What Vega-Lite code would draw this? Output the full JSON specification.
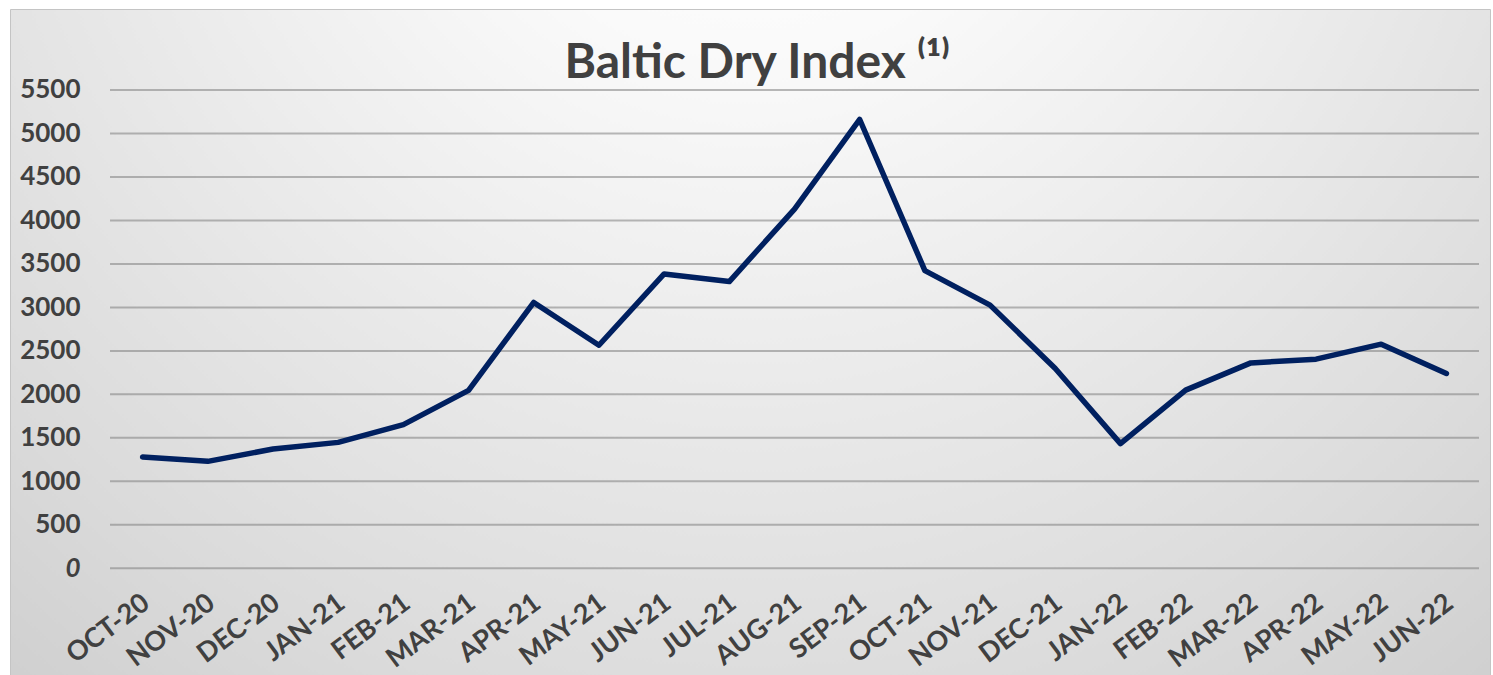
{
  "$schema": "https://vega.github.io/schema/vega-lite/v6.json",
  "width": 1480,
  "height": 666,
  "autosize": {"type": "none"},
  "padding": {"left": 10, "top": 9, "right": 3, "bottom": 0},
  "background": "#ffffff",
  "view": {
    "fill": {
      "gradient": "radial",
      "x1": 0.5, "y1": 0.1, "r1": 0,
      "x2": 0.5, "y2": 0.1, "r2": 1.67,
      "stops": [
        {"offset": 0, "color": "#ffffff"},
        {"offset": 0.12, "color": "#fafafa"},
        {"offset": 0.4, "color": "#dadada"},
        {"offset": 0.53, "color": "#c9c9c9"},
        {"offset": 0.7, "color": "#bcbcbc"},
        {"offset": 1, "color": "#b6b6b6"}
      ]
    },
    "stroke": "#c4c4c4",
    "strokeWidth": 1
  },
  "title": {
    "text": "Baltic Dry Index ⁽¹⁾",
    "orient": "top",
    "anchor": "middle",
    "frame": "group",
    "baseline": "alphabetic",
    "offset": 0,
    "dx": 7,
    "dy": 117,
    "font": "Lato",
    "fontSize": 48,
    "fontWeight": "bold",
    "color": "#404040"
  },
  "datasets": {
    "bdi": [
      {"month": "OCT-20", "index": 1280},
      {"month": "NOV-20", "index": 1230},
      {"month": "DEC-20", "index": 1372},
      {"month": "JAN-21", "index": 1448},
      {"month": "FEB-21", "index": 1652},
      {"month": "MAR-21", "index": 2046},
      {"month": "APR-21", "index": 3057},
      {"month": "MAY-21", "index": 2565},
      {"month": "JUN-21", "index": 3385},
      {"month": "JUL-21", "index": 3297},
      {"month": "AUG-21", "index": 4131},
      {"month": "SEP-21", "index": 5161},
      {"month": "OCT-21", "index": 3423},
      {"month": "NOV-21", "index": 3026},
      {"month": "DEC-21", "index": 2298},
      {"month": "JAN-22", "index": 1434},
      {"month": "FEB-22", "index": 2049},
      {"month": "MAR-22", "index": 2362},
      {"month": "APR-22", "index": 2405},
      {"month": "MAY-22", "index": 2577},
      {"month": "JUN-22", "index": 2240}
    ],
    "grid": [
      {"level": 0}, {"level": 500}, {"level": 1000}, {"level": 1500},
      {"level": 2000}, {"level": 2500}, {"level": 3000}, {"level": 3500},
      {"level": 4000}, {"level": 4500}, {"level": 5000}, {"level": 5500}
    ]
  },
  "layer": [
    {
      "data": {"name": "grid"},
      "mark": {"type": "rule", "color": "#7f7f7f", "strokeOpacity": 0.55, "strokeWidth": 2},
      "encoding": {
        "y": {
          "field": "level",
          "type": "quantitative",
          "scale": {"domain": [-1227, 6431.4], "nice": false, "zero": false},
          "axis": {
            "orient": "left",
            "offset": -70,
            "title": null,
            "values": [0, 500, 1000, 1500, 2000, 2500, 3000, 3500, 4000, 4500, 5000, 5500],
            "format": "d",
            "domain": false,
            "ticks": false,
            "tickSize": 0,
            "grid": false,
            "labelPadding": 0,
            "labelFont": "Lato",
            "labelFontSize": 26,
            "labelFontWeight": "bold",
            "labelColor": "#404040",
            "labelFontStyle": {"condition": {"test": "datum.label == '0'", "value": "italic"}, "value": "normal"},
            "labelOverlap": false
          }
        },
        "x": {"datum": "OCT-20", "type": "nominal", "bandPosition": 0},
        "x2": {"datum": "JUN-22", "bandPosition": 1}
      }
    },
    {
      "data": {"name": "bdi"},
      "mark": {"type": "line", "color": "#002060", "strokeWidth": 5.5, "strokeJoin": "round", "strokeCap": "round"},
      "encoding": {
        "x": {
          "field": "month",
          "type": "nominal",
          "scale": {
            "type": "band",
            "domain": ["OCT-20","NOV-20","DEC-20","JAN-21","FEB-21","MAR-21","APR-21","MAY-21","JUN-21","JUL-21","AUG-21","SEP-21","OCT-21","NOV-21","DEC-21","JAN-22","FEB-22","MAR-22","APR-22","MAY-22","JUN-22"],
            "paddingInner": 0,
            "paddingOuter": 0.8515,
            "align": 0.9009
          },
          "axis": {
            "orient": "bottom",
            "offset": -106.7,
            "title": null,
            "domain": false,
            "ticks": false,
            "tickSize": 0,
            "grid": false,
            "labelAngle": -37,
            "labelAlign": "right",
            "labelBaseline": "top",
            "labelPadding": 21,
            "labelOffset": -4,
            "labelFont": "Lato",
            "labelFontSize": 27,
            "labelFontWeight": "bold",
            "labelColor": "#404040",
            "labelOverlap": false
          }
        },
        "y": {
          "field": "index",
          "type": "quantitative",
          "scale": {"domain": [-1227, 6431.4], "nice": false, "zero": false}
        }
      }
    }
  ]
}
